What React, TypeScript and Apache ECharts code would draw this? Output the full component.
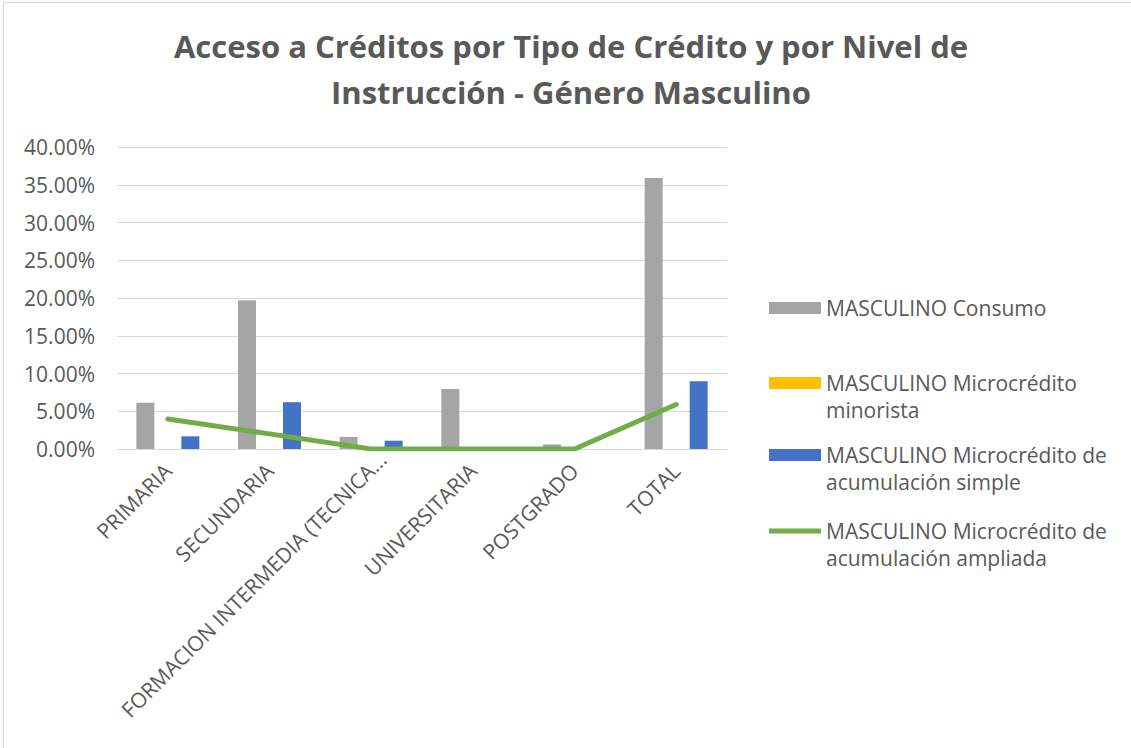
import React, { useEffect, useRef } from "react";
import * as echarts from "echarts";

const categories = [
  "PRIMARIA",
  "SECUNDARIA",
  "FORMACION INTERMEDIA (TECNICA...",
  "UNIVERSITARIA",
  "POSTGRADO",
  "TOTAL",
];
const seriesNames = [
  "MASCULINO Consumo",
  "MASCULINO Microcrédito minorista",
  "MASCULINO Microcrédito de acumulación simple",
  "MASCULINO Microcrédito de acumulación ampliada",
];
const legendLabels = [
  "MASCULINO Consumo",
  "\nMASCULINO Microcrédito\nminorista",
  "\nMASCULINO Microcrédito de\nacumulación simple",
  "\nMASCULINO Microcrédito de\nacumulación ampliada",
];
const consumo = [6.13, 19.7, 1.6, 7.95, 0.6, 35.9];
const minorista = [0, 0, 0, 0, 0, 0];
const simple = [1.68, 6.2, 1.1, 0, 0, 8.96];
const ampliada = [3.97, 2.0, 0, 0, 0, 5.9];
const yMin = 0;
const yMax = 40;
const yStep = 5;

const colors = ["#A5A5A5", "#FFC000", "#4472C4", "#70AD47"];
const FONT = "'Open Sans', sans-serif";
const TEXT = "#595959";

export default function App() {
  const ref = useRef<HTMLDivElement>(null);
  useEffect(() => {
    if (!ref.current) return;
    const chart = echarts.init(ref.current, undefined, { renderer: "svg" });
    const legendTops = [294.5, 342.5, 414.5, 490.5];
    const legends = seriesNames.map((name, i) => ({
      orient: "vertical",
      left: 769,
      top: legendTops[i],
      padding: 0,
      itemWidth: 52,
      itemHeight: 12,
      itemGap: 0,
      selectedMode: false,
      data: [
        i === 3
          ? { name, icon: "path://M0,0 L52,0 L52,5 L0,5 Z" }
          : { name, icon: "rect" },
      ],
      formatter: () => legendLabels[i],
      textStyle: {
        color: TEXT,
        fontFamily: FONT,
        fontSize: 21,
        lineHeight: 27,
      },
    }));
    const xData = categories.map((c, i) =>
      i === 2 ? { value: c, textStyle: { padding: [0, -16, 0, 0] } } : c
    );
    chart.setOption({
      animation: false,
      backgroundColor: "#ffffff",
      title: {
        text: "Acceso a Créditos por Tipo de Crédito y por Nivel de\nInstrucción - Género Masculino",
        left: 571,
        top: 23,
        textAlign: "center",
        padding: 0,
        textStyle: {
          color: TEXT,
          fontFamily: FONT,
          fontSize: 31,
          fontWeight: "bold",
          lineHeight: 46,
        },
      },
      graphic: [
        {
          type: "rect",
          silent: true,
          z: -10,
          shape: { x: 3.5, y: 2.5, width: 1200, height: 800 },
          style: { fill: "none", stroke: "#D9D9D9", lineWidth: 1 },
        },
      ],
      legend: legends,
      grid: { left: 117, right: 404, top: 147, bottom: 299, containLabel: false },
      xAxis: {
        type: "category",
        data: xData,
        axisLine: { lineStyle: { color: "#D9D9D9", width: 1 } },
        axisTick: { show: false },
        axisLabel: {
          interval: 0,
          rotate: 45,
          margin: 18,
          color: TEXT,
          fontFamily: FONT,
          fontSize: 21,
        },
      },
      yAxis: {
        type: "value",
        min: yMin,
        max: yMax,
        interval: yStep,
        axisLine: { show: false },
        axisTick: { show: false },
        splitLine: { lineStyle: { color: "#D9D9D9", width: 1 } },
        axisLabel: {
          margin: 22,
          color: TEXT,
          fontFamily: FONT,
          fontSize: 21,
          formatter: (v: number) => v.toFixed(2) + "%",
        },
      },
      series: [
        {
          name: seriesNames[0],
          type: "bar",
          data: consumo,
          barWidth: 18,
          barGap: "25%",
          itemStyle: { color: colors[0] },
        },
        {
          name: seriesNames[1],
          type: "bar",
          data: minorista,
          barWidth: 18,
          barGap: "25%",
          itemStyle: { color: colors[1] },
        },
        {
          name: seriesNames[2],
          type: "bar",
          data: simple,
          barWidth: 18,
          barGap: "25%",
          itemStyle: { color: colors[2] },
        },
        {
          name: seriesNames[3],
          type: "line",
          data: ampliada,
          symbol: "none",
          z: 5,
          itemStyle: { color: colors[3] },
          lineStyle: { color: colors[3], width: 5, cap: "round", join: "round" },
        },
      ],
    });
    return () => chart.dispose();
  }, []);
  return (
    <div
      ref={ref}
      style={{ position: "fixed", left: 0, top: 0, width: 1131, height: 748 }}
    />
  );
}
